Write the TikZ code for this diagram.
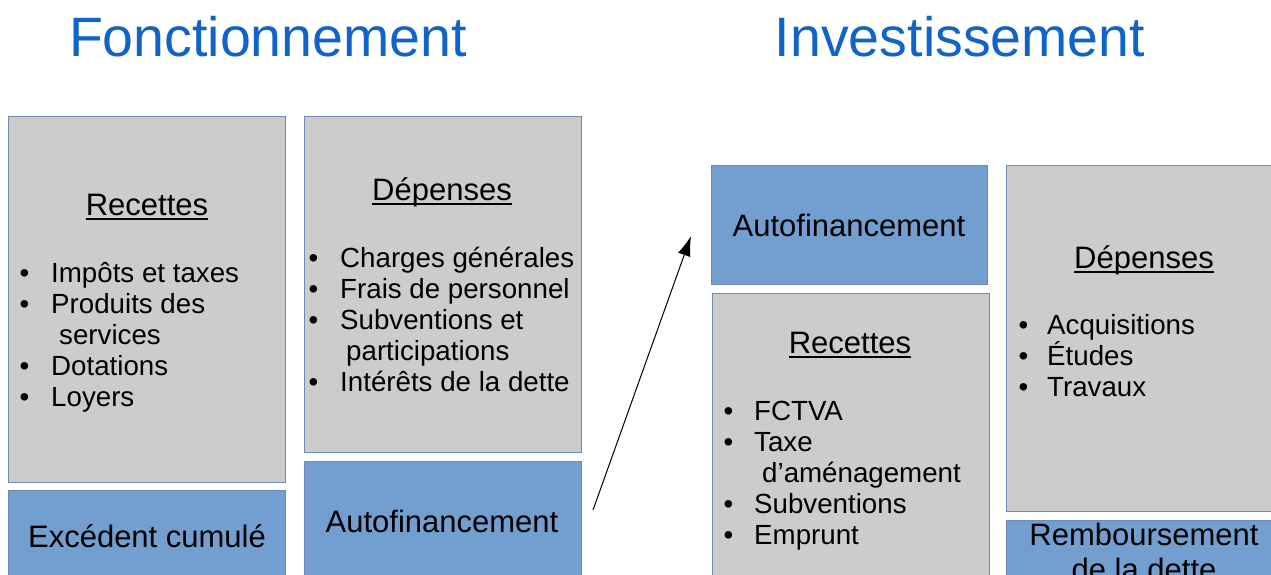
\documentclass[tikz,border=0pt]{standalone}
\usepackage{fontspec}
\setmainfont{Liberation Sans}
\usetikzlibrary{arrows.meta}
\definecolor{boxgray}{RGB}{204,204,204}
\definecolor{boxblue}{RGB}{114,159,207}
\definecolor{boxline}{RGB}{110,138,178}
\definecolor{titleblue}{RGB}{16,99,200}
\begin{document}
\begin{tikzpicture}[x=1pt,y=-1pt,
  box/.style={draw=boxline, line width=1.2pt, anchor=north west, inner sep=0pt},
  graybox/.style={box, fill=boxgray},
  bluebox/.style={box, fill=boxblue},
  titletxt/.style={text=titleblue, font=\fontsize{55.5}{60}\selectfont, inner sep=0pt, anchor=base},
  headtxt/.style={font=\fontsize{31}{35}\selectfont, inner sep=0pt, anchor=base},
  itemtxt/.style={font=\fontsize{27.7}{31}\selectfont, inner sep=0pt, anchor=base west},
  uline/.style={line width=1.4pt}
]
\useasboundingbox (0,0) rectangle (1271,575);
\clip (0,0) rectangle (1271,575);
% titles
\node[titletxt] (tF) at (268,57) {Fonctionnement};
\node[titletxt] (tI) at (960,57) {Investissement};
% boxes
\node[graybox, minimum width=277pt, minimum height=366pt] (recF) at (8,116) {};
\node[graybox, minimum width=277pt, minimum height=336pt] (depF) at (304,116) {};
\node[bluebox, minimum width=277pt, minimum height=100pt] (excF) at (8,490) {};
\node[bluebox, minimum width=277pt, minimum height=120pt] (autF) at (304,461) {};
\node[bluebox, minimum width=276pt, minimum height=119pt] (autI) at (711,165) {};
\node[graybox, minimum width=277pt, minimum height=300pt] (recI) at (712,293) {};
\node[graybox, minimum width=280pt, minimum height=346pt] (depI) at (1006,165) {};
\node[bluebox, minimum width=280pt, minimum height=100pt] (remI) at (1006,520) {};
% headings
\node[headtxt] (hRecF) at (147,215) {Recettes};
\draw[uline] ([yshift=-4pt]hRecF.base west) -- ([yshift=-4pt]hRecF.base east);
\node[headtxt] (hDepF) at (442,200) {Dépenses};
\draw[uline] ([yshift=-4pt]hDepF.base west) -- ([yshift=-4pt]hDepF.base east);
\node[headtxt] (hRecI) at (850,353) {Recettes};
\draw[uline] ([yshift=-4pt]hRecI.base west) -- ([yshift=-4pt]hRecI.base east);
\node[headtxt] (hDepI) at (1144,268) {Dépenses};
\draw[uline] ([yshift=-4pt]hDepI.base west) -- ([yshift=-4pt]hDepI.base east);
% box labels
\node[headtxt] (lExc) at (147,547) {Excédent cumulé};
\node[headtxt] (lAutF) at (442,532) {Autofinancement};
\node[headtxt] (lAutI) at (849,236) {Autofinancement};
\node[headtxt] (lRem1) at (1144,545) {Remboursement};
\node[headtxt] (lRem2) at (1144,580) {de la dette};
% Recettes F items
\node[itemtxt] (rb1) at (19.5,282) {•};
\node[itemtxt] (ri1) at (51,282) {Impôts et taxes};
\node[itemtxt] (rb2) at (19.5,313) {•};
\node[itemtxt] (ri2) at (51,313) {Produits des};
\node[itemtxt] (ri2b) at (59,344) {services};
\node[itemtxt] (rb3) at (19.5,375) {•};
\node[itemtxt] (ri3) at (51,375) {Dotations};
\node[itemtxt] (rb4) at (19.5,406) {•};
\node[itemtxt] (ri4) at (51,406) {Loyers};
% Dépenses F items
\node[itemtxt] (db1) at (308.5,267) {•};
\node[itemtxt] (di1) at (340,267) {Charges générales};
\node[itemtxt] (db2) at (308.5,298) {•};
\node[itemtxt] (di2) at (340,298) {Frais de personnel};
\node[itemtxt] (db3) at (308.5,329) {•};
\node[itemtxt] (di3) at (340,329) {Subventions et};
\node[itemtxt] (di3b) at (346,360) {participations};
\node[itemtxt] (db4) at (308.5,391) {•};
\node[itemtxt] (di4) at (340,391) {Intérêts de la dette};
% Recettes I items
\node[itemtxt] (Rb1) at (723.5,420) {•};
\node[itemtxt] (Ri1) at (754,420) {FCTVA};
\node[itemtxt] (Rb2) at (723.5,451) {•};
\node[itemtxt] (Ri2) at (754,451) {Taxe};
\node[itemtxt] (Ri2b) at (762,482) {d’aménagement};
\node[itemtxt] (Rb3) at (723.5,513) {•};
\node[itemtxt] (Ri3) at (754,513) {Subventions};
\node[itemtxt] (Rb4) at (723.5,544) {•};
\node[itemtxt] (Ri4) at (754,544) {Emprunt};
% Dépenses I items
\node[itemtxt] (Db1) at (1018.5,334) {•};
\node[itemtxt] (Di1) at (1047,334) {Acquisitions};
\node[itemtxt] (Db2) at (1018.5,365) {•};
\node[itemtxt] (Di2) at (1047,365) {Études};
\node[itemtxt] (Db3) at (1018.5,396) {•};
\node[itemtxt] (Di3) at (1047,396) {Travaux};
% arrow
\coordinate (aS) at (593,510);
\coordinate (aE) at (691,236);
\draw[-{Latex[length=20pt,width=13pt]}, line width=1pt] (aS) -- (aE);
\end{tikzpicture}
\end{document}
